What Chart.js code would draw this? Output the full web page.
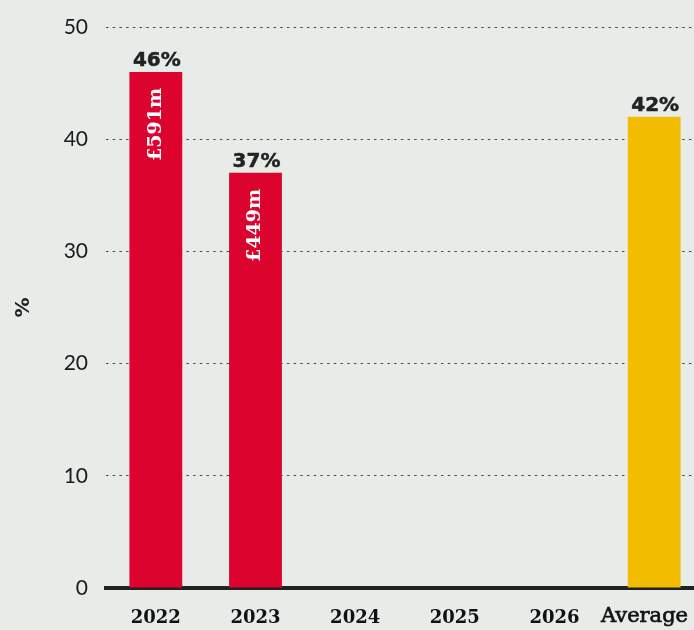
<!DOCTYPE html>
<html>
<head>
<meta charset="utf-8">
<script src="https://cdn.jsdelivr.net/npm/chart.js@4"></script>
<style>
    html, body { margin: 0; padding: 0; background: #e8ece9; }
    #wrap { width: 694px; height: 630px; overflow: hidden; position: relative; }
    canvas { display: block; }
</style>
</head>
<body>
<div id="wrap">
    <canvas id="shareChart" width="704" height="630"></canvas>
</div>
<script>
const categories = ['2022', '2023', '2024', '2025', '2026', 'Average'];
const shareValues = [46, 37, null, null, null, 42];
const amountLabels = ['£591m', '£449m', null, null, null, null];
const barColours = ['#dc032f', '#dc032f', '#dc032f', '#dc032f', '#dc032f', '#f2bc00'];
const yTicks = [0, 10, 20, 30, 40, 50];

Chart.defaults.font.family = "'DejaVu Sans', sans-serif";
Chart.defaults.color = '#222';

// Percentage on top of each bar, amount written sideways inside it
const barLabels = {
    id: 'barLabels',
    afterDatasetsDraw(chart) {
        const ctx = chart.ctx;
        const meta = chart.getDatasetMeta(0);
        meta.data.forEach((bar, i) => {
            const value = shareValues[i];
            if (value === null) return;
            ctx.save();
            ctx.fillStyle = '#222';
            ctx.strokeStyle = '#222';
            ctx.lineWidth = 0.5;
            ctx.font = "bold 20px 'DejaVu Sans', sans-serif";
            ctx.textAlign = 'center';
            ctx.textBaseline = 'alphabetic';
            ctx.fillText(value + '%', bar.x + 1, bar.y - 6);
            ctx.strokeText(value + '%', bar.x + 1, bar.y - 6);
            ctx.restore();

            const amount = amountLabels[i];
            if (!amount) return;
            ctx.save();
            ctx.translate(bar.x, bar.y + 16);
            ctx.rotate(-Math.PI / 2);
            ctx.fillStyle = '#fff';
            ctx.font = "bold 19px 'DejaVu Serif', serif";
            ctx.textAlign = 'right';
            ctx.textBaseline = 'middle';
            ctx.fillText(amount, 0, 0);
            ctx.restore();
        });
    }
};

// Category names under the axis, kept inside the visible width
const categoryLabels = {
    id: 'categoryLabels',
    afterDraw(chart) {
        const ctx = chart.ctx;
        const xScale = chart.scales.x;
        categories.forEach((name, i) => {
            ctx.save();
            const isAverage = name === 'Average';
            ctx.font = isAverage
                ? "21px 'DejaVu Serif', serif"
                : "bold 18px 'DejaVu Serif', serif";
            ctx.fillStyle = '#111';
            ctx.strokeStyle = '#111';
            ctx.lineWidth = 0.7;
            ctx.textAlign = 'center';
            ctx.textBaseline = 'alphabetic';
            const w = ctx.measureText(name).width;
            let x = xScale.getPixelForValue(i);
            if (x + w / 2 > 688) x = 688 - w / 2;
            const y = isAverage ? 622 : 623;
            ctx.fillText(name, x, y);
            if (isAverage) ctx.strokeText(name, x, y);
            ctx.restore();
        });
    }
};

const ctx = document.getElementById('shareChart').getContext('2d');
new Chart(ctx, {
    type: 'bar',
    data: {
        labels: categories,
        datasets: [{
            data: shareValues,
            backgroundColor: barColours,
            borderWidth: 0,
            categoryPercentage: 1,
            barPercentage: 0.53
        }]
    },
    options: {
        responsive: false,
        animation: false,
        layout: { padding: { top: 27, right: 0, bottom: 42, left: 0 } },
        plugins: {
            legend: { display: false },
            tooltip: { enabled: false }
        },
        scales: {
            x: {
                grid: { drawOnChartArea: false, drawTicks: false, color: 'rgba(0,0,0,0)' },
                border: { display: true, color: '#222', width: 4 },
                ticks: { display: false }
            },
            y: {
                min: 0,
                max: 50,
                afterBuildTicks: scale => {
                    scale.ticks = yTicks.map(v => ({ value: v }));
                },
                afterFit: scale => {
                    scale.width = 106;
                    scale.paddingTop = 0;
                    scale.paddingBottom = 0;
                },
                grid: {
                    drawTicks: false,
                    color: '#4a4a4a',
                    lineWidth: 1
                },
                border: { display: false, dash: [2.5, 4.2] },
                ticks: {
                    padding: 18,
                    color: '#1a1a1a',
                    font: { family: "'Lato', sans-serif", size: 21, weight: 400 }
                },
                title: {
                    display: true,
                    text: '%',
                    color: '#222',
                    padding: { top: 12, bottom: 0 },
                    font: { family: "'DejaVu Sans', sans-serif", size: 20, weight: 'bold' }
                }
            }
        }
    },
    plugins: [barLabels, categoryLabels]
});
</script>
</body>
</html>
